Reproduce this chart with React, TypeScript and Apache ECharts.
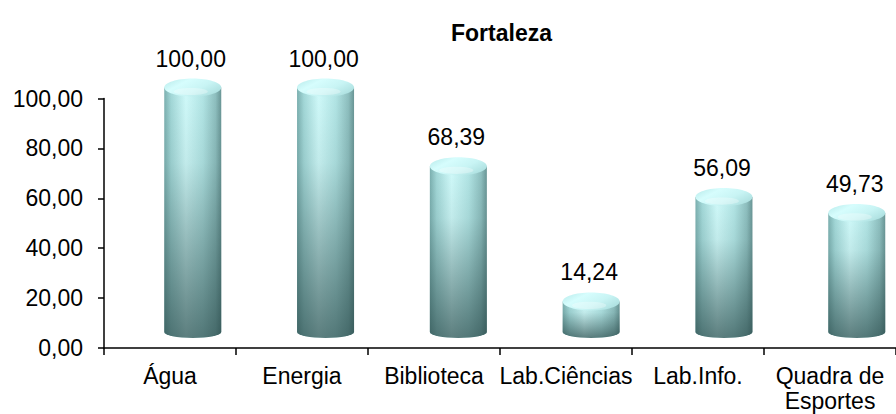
import React, { useEffect, useRef } from "react";
import * as echarts from "echarts";

const categories = ["Água", "Energia", "Biblioteca", "Lab.Ciências", "Lab.Info.", "Quadra de\nEsportes"];
const values = [100.0, 100.0, 68.39, 14.24, 56.09, 49.73];
const yMin = 0;
const yMax = 100;
const yInterval = 20;
const titleText = "Fortaleza";

const FONT = '"Liberation Sans", Arial, sans-serif';
const fmt = (v: number) => v.toFixed(2).replace(".", ",");

export default function App() {
  const ref = useRef<HTMLDivElement>(null);
  useEffect(() => {
    document.body.style.margin = "0";
    const chart = echarts.init(ref.current!, null, { renderer: "svg" });
    const bodyH = new echarts.graphic.LinearGradient(0, 0, 1, 0, [
      { offset: 0, color: "#7cb0b0" },
      { offset: 0.12, color: "#a3d8d8" },
      { offset: 0.38, color: "#d0fafa" },
      { offset: 0.68, color: "#b2e5e5" },
      { offset: 0.9, color: "#8ebfbf" },
      { offset: 1, color: "#6a9696" },
    ]);
    const bodyV = new echarts.graphic.LinearGradient(0, 0, 0, 1, [
      { offset: 0, color: "rgba(30,60,60,0)" },
      { offset: 0.3, color: "rgba(30,60,60,0.08)" },
      { offset: 1, color: "rgba(30,60,60,0.65)" },
    ]);
    const capFill = new echarts.graphic.LinearGradient(0, 0, 1, 0.6, [
      { offset: 0, color: "#b4e8e8" },
      { offset: 0.35, color: "#d6fdfd" },
      { offset: 0.7, color: "#c8f4f4" },
      { offset: 1, color: "#b0e2e2" },
    ]);
    chart.setOption({
      animation: false,
      title: {
        text: titleText,
        left: 446,
        top: 16,
        textStyle: { fontFamily: FONT, fontSize: 23, fontWeight: "bold", color: "#000" },
      },
      grid: { left: 104, top: 98.5, width: 801, height: 249.5, containLabel: false },
      xAxis: {
        type: "category",
        data: categories,
        axisLine: { show: true, lineStyle: { color: "#000", width: 1.5 } },
        axisTick: { show: true, length: 7, interval: 0, lineStyle: { color: "#000", width: 1.5 } },
        axisLabel: {
          interval: 0,
          margin: 15,
          fontFamily: FONT,
          fontSize: 23,
          lineHeight: 25,
          color: "#000",
        },
        splitLine: { show: false },
      },
      yAxis: {
        type: "value",
        min: yMin,
        max: yMax,
        interval: yInterval,
        axisLine: { show: true, lineStyle: { color: "#000", width: 1.5 } },
        axisTick: { show: true, length: 6, lineStyle: { color: "#000", width: 1.5 } },
        axisLabel: {
          margin: 21,
          fontFamily: FONT,
          fontSize: 23,
          color: "#000",
          formatter: (v: number) => fmt(v),
        },
        splitLine: { show: false },
      },
      series: [
        {
          type: "custom",
          data: values.map((v, i) => [i, v]),
          encode: { x: 0, y: 1 },
          renderItem: (params: any, api: any) => {
            const idx = api.value(0);
            const v = api.value(1);
            const p = api.coord([idx, v]);
            const p0 = api.coord([idx, 0]);
            const cx = p[0] + 22.75 + 0.8 * idx;
            const rx = 28.5;
            const ry = 9;
            const ryb = 6;
            const yTop = p[1] - 20 + ry;
            const yBot = p0[1] - 16;
            const d = `M${cx - rx},${yTop} L${cx - rx},${yBot} A${rx},${ryb} 0 0 0 ${cx + rx},${yBot} L${cx + rx},${yTop} Z`;
            return {
              type: "group",
              children: [
                { type: "path", shape: { pathData: d }, style: { fill: bodyH } },
                { type: "path", shape: { pathData: d }, style: { fill: bodyV } },
                {
                  type: "ellipse",
                  shape: { cx, cy: yTop, rx, ry },
                  style: { fill: capFill },
                },
                {
                  type: "ellipse",
                  shape: { cx: cx - 2, cy: yTop + 4, rx: rx * 0.6, ry: ry * 0.4 },
                  style: { fill: "rgba(255,255,255,0.3)" },
                },
                {
                  type: "text",
                  x: cx - 2,
                  y: yTop - ry - 20,
                  style: {
                    text: fmt(v),
                    align: "center",
                    verticalAlign: "middle",
                    fontFamily: FONT,
                    fontSize: 23,
                    fill: "#000",
                  },
                },
              ],
            };
          },
        },
      ],
    });
    return () => chart.dispose();
  }, []);
  return <div ref={ref} style={{ width: 896, height: 414 }} />;
}
